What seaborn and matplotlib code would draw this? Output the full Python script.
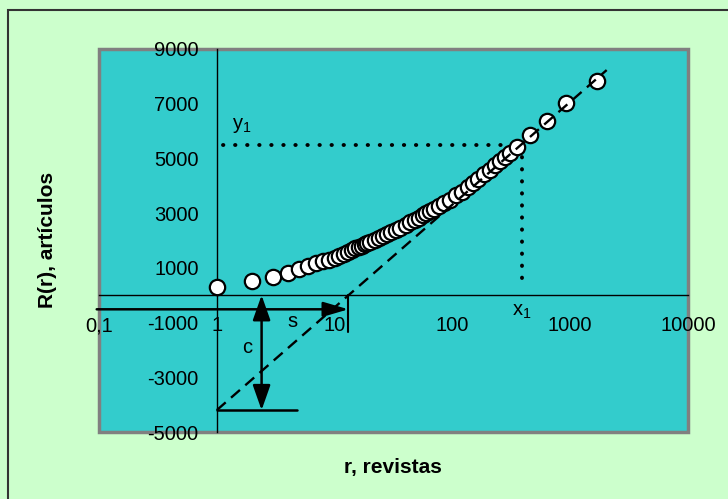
import matplotlib
matplotlib.use("Agg")
import matplotlib.pyplot as plt
import seaborn as sns
import pandas as pd
from matplotlib.patches import Rectangle
from matplotlib.ticker import FixedLocator, FixedFormatter, NullLocator

# Cumulative rank of journals (r) and cumulative number of articles R(r)
rank = [1, 2, 3, 4, 5, 6, 7, 8, 9, 10, 11, 12, 13, 14, 15, 16, 17, 18, 19, 20,
        22, 24, 26, 28, 30, 33, 36, 40, 44, 48, 52, 56, 60, 65, 70, 77, 85, 95,
        108, 120, 136, 150, 166, 186, 207, 232, 255, 279, 310, 352, 458, 630,
        930, 1679]
articles = [310, 530, 655, 800, 945, 1060, 1160, 1240, 1300, 1370, 1451, 1524,
            1591, 1653, 1712, 1766, 1817, 1865, 1910, 1953, 2033, 2106, 2173,
            2235, 2293, 2372, 2445, 2558, 2660, 2753, 2839, 2918, 2993, 3078,
            3156, 3257, 3362, 3480, 3645, 3781, 3943, 4090, 4247, 4420, 4576,
            4760, 4910, 5040, 5200, 5427, 5855, 6378, 7014, 7840]

# Linear (Bradford) zone fitted on the log scale
line_r = [1, 2040]
line_R = [-4200, 8230]

# Characteristic values marked on the chart
s_val = 13.1      # intercept of the line with R = 0
c_val = -4200     # value of the line at r = 1
x1_val = 390
y1_val = 5490

x_ticks = [0.1, 1, 10, 100, 1000, 10000]
x_tick_labels = ["0,1", "1", "10", "100", "1000", "10000"]
y_ticks = [-5000, -3000, -1000, 1000, 3000, 5000, 7000, 9000]
y_tick_labels = [str(v) for v in y_ticks]

sns.set_style("white")
plt.rcParams["font.family"] = ["Liberation Sans", "DejaVu Sans"]
plt.rcParams["text.color"] = "black"
plt.rcParams["axes.labelcolor"] = "black"
plt.rcParams["xtick.color"] = "black"
plt.rcParams["ytick.color"] = "black"

fig = plt.figure(figsize=(7.28, 4.99), dpi=100, facecolor="#CCFFCC")
ax = fig.add_axes([99 / 728, 1 - 432 / 499, 589 / 728, 383 / 499])
ax.set_facecolor("#33CCCC")
ax.set_xscale("log")

# Dotted guides for (x1, y1)
dot_style = dict(color="black", linewidth=2.8, linestyle=(0, (0.1, 3.0)),
                 dash_capstyle="round", zorder=2)
ax.plot([1.135, x1_val], [y1_val, y1_val], **dot_style)
ax.plot([x1_val, x1_val], [y1_val, 350], **dot_style)

# Data points
df = pd.DataFrame({"r": rank, "R": articles})
sns.scatterplot(data=df, x="r", y="R", ax=ax, s=122, color="white",
                edgecolor="black", linewidth=1.6, zorder=3, legend=False)

# Dashed fitted line
ax.plot(line_r, line_R, color="black", linewidth=1.7,
        linestyle=(0, (5, 3)), zorder=4)

# Construction lines for s and c
ax.plot([1, 4.77], [c_val, c_val], color="black", linewidth=1.8, zorder=4)
ax.plot([s_val, s_val], [0, -1335], color="black", linewidth=1.5, zorder=4)

ax.annotate("", xy=(s_val, -515), xytext=(0.0956, -515),
            arrowprops=dict(arrowstyle="-|>,head_length=0.85,head_width=0.25",
                            color="black", lw=1.8, shrinkA=0, shrinkB=0,
                            mutation_scale=18),
            annotation_clip=False, zorder=5)
ax.annotate("", xy=(2.4, c_val), xytext=(2.4, 0),
            arrowprops=dict(arrowstyle="<|-|>,head_length=0.85,head_width=0.3",
                            color="black", lw=1.8, shrinkA=0, shrinkB=0,
                            mutation_scale=18),
            zorder=5)

ax.set_xlim(0.1, 10000)
ax.set_ylim(-5000, 9000)
ax.set_xlabel("")
ax.set_ylabel("")

# Axes cross at r = 1 and R = 0
for side in ("top", "right"):
    ax.spines[side].set_visible(False)
ax.spines["left"].set_position(("data", 1))
ax.spines["bottom"].set_position(("data", 0))
for side in ("left", "bottom"):
    ax.spines[side].set_color("black")
    ax.spines[side].set_linewidth(1.0)
    ax.spines[side].set_zorder(1.5)

# Grey plot-area frame
ax.add_patch(Rectangle((0, 0), 1, 1, transform=ax.transAxes, fill=False,
                       edgecolor="#808080", linewidth=2.5, clip_on=False,
                       zorder=0.5))

ax.xaxis.set_major_locator(FixedLocator(x_ticks))
ax.xaxis.set_major_formatter(FixedFormatter(x_tick_labels))
ax.xaxis.set_minor_locator(NullLocator())
ax.yaxis.set_major_locator(FixedLocator(y_ticks))
ax.yaxis.set_major_formatter(FixedFormatter(y_tick_labels))
ax.yaxis.set_minor_locator(NullLocator())
ax.tick_params(axis="x", direction="out", length=5, width=1, pad=10,
               labelsize=14.5, colors="black")
ax.tick_params(axis="y", direction="out", length=5, width=1, pad=8,
               labelsize=14.5, colors="black")

ax.text(4.4, -950, "s", fontsize=14.5, ha="center", va="center")
ax.text(1.8, -1900, "c", fontsize=14.5, ha="center", va="center")
ax.text(1.63, 6220, r"$\mathregular{y_1}$", fontsize=14.5, ha="center",
        va="center")
ax.text(388, -603, r"$\mathregular{x_1}$", fontsize=14.5, ha="center",
        va="center")

# Axis titles
fig.text(47.6 / 728, 1 - 240 / 499, "R(r), artículos", rotation=90,
         fontsize=15, fontweight="bold", ha="center", va="center")
fig.text(393 / 728, 1 - 467 / 499, "r, revistas", fontsize=15,
         fontweight="bold", ha="center", va="center")

# Outer chart border
fig.add_artist(Rectangle((8 / 728, -0.05), 1.1, 1 - 10 / 499 + 0.05,
                         transform=fig.transFigure, fill=False,
                         edgecolor="#333333", linewidth=1.5))

fig.savefig("out.png", dpi=100, facecolor=fig.get_facecolor())
